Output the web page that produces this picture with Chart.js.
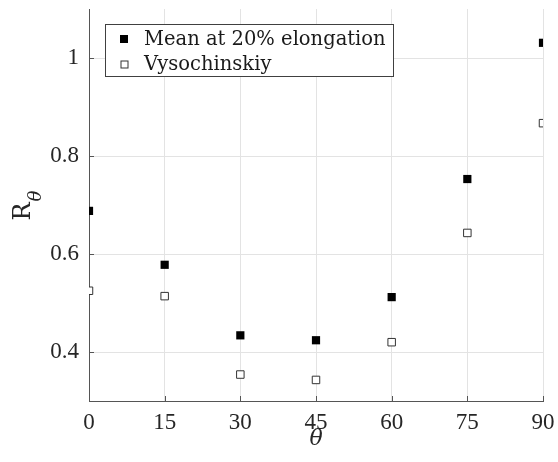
<!DOCTYPE html>
<html><head><meta charset="utf-8">
<script src="https://cdn.jsdelivr.net/npm/chart.js@4"></script>
<style>html,body{margin:0;padding:0;background:#fff}#wrap{width:558px;height:462px}</style>
</head><body><div id="wrap"><canvas id="c" width="558" height="462"></canvas></div>
<script>
const angles = [0, 15, 30, 45, 60, 75, 90];
const meanValues = [0.688, 0.578, 0.434, 0.424, 0.512, 0.753, 1.031];
const vysoValues = [0.525, 0.514, 0.354, 0.343, 0.420, 0.643, 0.867];
const xTicks = [0, 15, 30, 45, 60, 75, 90];
const yTicks = [0.4, 0.6, 0.8, 1];
const seriesNames = ['Mean at 20% elongation', 'Vysochinskiy'];
const yTitle = 'R';
const ySub = 'θ';
const xTitle = 'θ';

const SERIF = '"DejaVu Serif", serif';
const TICKFONT = '"Liberation Serif", serif';
const TXT = '#262626';

const titlesPlugin = {
  id: 'titles',
  afterDraw(chart) {
    const ctx = chart.ctx;
    const a = chart.chartArea;
    const xs = chart.scales.x, ys = chart.scales.y;
    ctx.save();
    // inward tick marks
    ctx.strokeStyle = '#555';
    ctx.lineWidth = 1;
    ctx.beginPath();
    xTicks.forEach(v => {
      const px = Math.round(xs.getPixelForValue(v)) + 0.5;
      ctx.moveTo(px, a.bottom);
      ctx.lineTo(px, a.bottom - 5);
    });
    yTicks.forEach(v => {
      const py = Math.round(ys.getPixelForValue(v)) + 0.5;
      ctx.moveTo(a.left, py);
      ctx.lineTo(a.left + 5, py);
    });
    ctx.stroke();

    ctx.fillStyle = TXT;
    // x title
    ctx.font = 'italic 22px ' + SERIF;
    ctx.textAlign = 'center';
    ctx.textBaseline = 'middle';
    ctx.fillText(xTitle, (a.left + a.right) / 2, 439);
    // y title rotated
    ctx.translate(30, 206);
    ctx.rotate(-Math.PI / 2);
    ctx.textBaseline = 'alphabetic';
    ctx.textAlign = 'left';
    ctx.font = '24px ' + SERIF;
    const wR = ctx.measureText(yTitle).width;
    ctx.font = 'italic 18px ' + SERIF;
    const wS = ctx.measureText(ySub).width;
    const start = -(wR + wS) / 2;
    ctx.font = '24px ' + SERIF;
    ctx.fillText(yTitle, start, 0);
    ctx.font = 'italic 18px ' + SERIF;
    ctx.fillText(ySub, start + wR + 1, 11);
    ctx.restore();

    // legend
    ctx.save();
    const lx = 105, ly = 24, lw = 288, lh = 52;
    ctx.fillStyle = '#fff';
    ctx.fillRect(lx, ly, lw, lh);
    ctx.strokeStyle = '#404040';
    ctx.lineWidth = 1;
    ctx.strokeRect(lx + 0.5, ly + 0.5, lw, lh);
    ctx.font = '19.5px ' + SERIF;
    ctx.textBaseline = 'middle';
    ctx.textAlign = 'left';
    const rows = [39, 64];
    chart.data.datasets.forEach((ds, i) => {
      const y = rows[i];
      const s = i === 0 ? 8 : 7;
      if (i === 0) {
        ctx.fillStyle = '#000';
        ctx.fillRect(124 - s / 2, y - s / 2, s, s);
      } else {
        ctx.strokeStyle = '#333';
        ctx.lineWidth = 1;
        ctx.strokeRect(124 - s / 2 + 0.5, y - s / 2 + 0.5, s, s);
      }
      ctx.fillStyle = '#1a1a1a';
      ctx.fillText(ds.label, 144, y + 1);
    });
    ctx.restore();
  }
};

new Chart(document.getElementById('c'), {
  type: 'scatter',
  data: {
    datasets: [
      {
        label: seriesNames[0],
        data: angles.map((x, i) => ({ x, y: meanValues[i] })),
        pointStyle: 'rect',
        pointRadius: 5.8,
        backgroundColor: '#000',
        borderColor: '#000',
        borderWidth: 0
      },
      {
        label: seriesNames[1],
        data: angles.map((x, i) => ({ x, y: vysoValues[i] })),
        pointStyle: 'rect',
        pointRadius: 5.3,
        backgroundColor: '#fff',
        borderColor: '#333',
        borderWidth: 1
      }
    ]
  },
  options: {
    responsive: false,
    animation: false,
    devicePixelRatio: 1,
    layout: { padding: { top: 9, right: 15, left: 0, bottom: 0 } },
    plugins: { legend: { display: false }, tooltip: { enabled: false } },
    scales: {
      x: {
        type: 'linear', min: 0, max: 90,
        afterBuildTicks: s => { s.ticks = xTicks.map(v => ({ value: v })); },
        afterFit: s => { s.height = 61; s.paddingLeft = 0; s.paddingRight = 0; },
        ticks: { color: TXT, font: { family: TICKFONT, size: 23 }, padding: 8, maxRotation: 0 },
        grid: { color: '#e3e3e3', drawTicks: false },
        border: { color: '#555', width: 1 }
      },
      y: {
        type: 'linear', min: 0.3, max: 1.1,
        afterBuildTicks: s => { s.ticks = yTicks.map(v => ({ value: v })); },
        afterFit: s => { s.width = 89; s.paddingTop = 0; s.paddingBottom = 0; },
        ticks: { color: TXT, font: { family: TICKFONT, size: 23 }, padding: 10,
          callback: v => String(v) },
        grid: { color: '#e3e3e3', drawTicks: false },
        border: { color: '#555', width: 1 }
      }
    }
  },
  plugins: [titlesPlugin]
});
</script>
</body></html>
